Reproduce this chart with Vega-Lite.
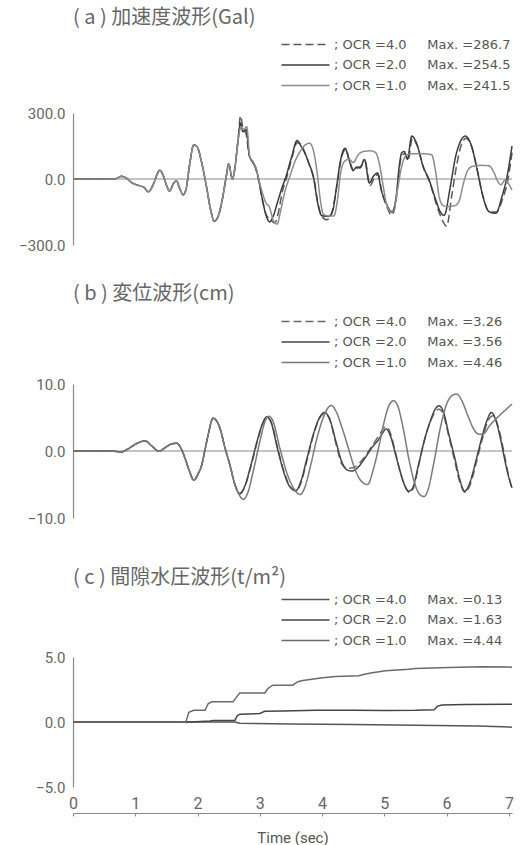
{
"$schema": "https://vega.github.io/schema/vega-lite/v6.json",
"background": "white",
"padding": {"left": 18, "top": 8, "right": 4, "bottom": 0},
"config": {
  "view": {"stroke": null},
  "font": "Roboto",
  "title": {"font": "Noto Sans CJK JP", "fontSize": 20, "fontWeight": "normal", "color": "#666", "anchor": "start", "frame": "group"},
  "axis": {"labelFont": "Roboto", "labelColor": "#666", "labelFontSize": 15, "domainColor": "#8a8a8a", "domainWidth": 1.2, "grid": false, "ticks": false, "labelPadding": 8},
  "legend": {"orient": "none", "symbolType": "M-4.8,0H4.8", "symbolSize": 100, "symbolStrokeWidth": 1.5, "labelFont": "DejaVu Sans", "labelFontSize": 13, "labelColor": "#555", "rowPadding": 6.5, "labelOffset": 22, "labelLimit": 400, "padding": 0}
},
"datasets": {
"a": [
{"s":"a4","t":0,"v":0},{"s":"a4","t":0.66,"v":0},{"s":"a4","t":0.71,"v":4},{"s":"a4","t":0.78,"v":12},{"s":"a4","t":0.85,"v":5},{"s":"a4","t":0.95,"v":-18},{"s":"a4","t":1.06,"v":-30},{"s":"a4","t":1.14,"v":-38},{"s":"a4","t":1.21,"v":-58},{"s":"a4","t":1.28,"v":-30},{"s":"a4","t":1.35,"v":20},{"s":"a4","t":1.39,"v":40},{"s":"a4","t":1.45,"v":15},{"s":"a4","t":1.51,"v":-35},{"s":"a4","t":1.55,"v":-55},{"s":"a4","t":1.61,"v":-22},{"s":"a4","t":1.66,"v":-8},{"s":"a4","t":1.71,"v":-40},{"s":"a4","t":1.77,"v":-72},{"s":"a4","t":1.82,"v":-40},{"s":"a4","t":1.87,"v":60},{"s":"a4","t":1.94,"v":155},{"s":"a4","t":1.99,"v":148},{"s":"a4","t":2.07,"v":70},{"s":"a4","t":2.15,"v":-45},{"s":"a4","t":2.21,"v":-140},{"s":"a4","t":2.27,"v":-192},{"s":"a4","t":2.33,"v":-170},{"s":"a4","t":2.40,"v":-90},{"s":"a4","t":2.46,"v":10},{"s":"a4","t":2.50,"v":68},{"s":"a4","t":2.56,"v":0},{"s":"a4","t":2.60,"v":50},{"s":"a4","t":2.65,"v":175},
{"s":"a4","t":2.69,"v":287},{"s":"a4","t":2.73,"v":230},{"s":"a4","t":2.78,"v":205},{"s":"a4","t":2.83,"v":105},{"s":"a4","t":2.88,"v":80},{"s":"a4","t":2.93,"v":50},{"s":"a4","t":2.98,"v":-5},{"s":"a4","t":3.04,"v":-95},{"s":"a4","t":3.10,"v":-160},{"s":"a4","t":3.17,"v":-185},{"s":"a4","t":3.24,"v":-200},{"s":"a4","t":3.30,"v":-150},{"s":"a4","t":3.36,"v":-60},{"s":"a4","t":3.44,"v":15},{"s":"a4","t":3.52,"v":100},{"s":"a4","t":3.60,"v":165},{"s":"a4","t":3.67,"v":155},{"s":"a4","t":3.73,"v":115},{"s":"a4","t":3.80,"v":60},{"s":"a4","t":3.87,"v":0},{"s":"a4","t":3.94,"v":-120},{"s":"a4","t":4.00,"v":-170},{"s":"a4","t":4.07,"v":-185},{"s":"a4","t":4.13,"v":-175},{"s":"a4","t":4.19,"v":-110},{"s":"a4","t":4.25,"v":-10},{"s":"a4","t":4.31,"v":95},{"s":"a4","t":4.38,"v":135},{"s":"a4","t":4.44,"v":85},{"s":"a4","t":4.51,"v":35},{"s":"a4","t":4.57,"v":50},{"s":"a4","t":4.63,"v":60},{"s":"a4","t":4.69,"v":80},{"s":"a4","t":4.77,"v":-30},{"s":"a4","t":4.84,"v":5},{"s":"a4","t":4.90,"v":20},{"s":"a4","t":4.96,"v":-60},{"s":"a4","t":5.04,"v":-125},{"s":"a4","t":5.12,"v":-165},{"s":"a4","t":5.20,"v":-70},{"s":"a4","t":5.25,"v":70},{"s":"a4","t":5.29,"v":110},{"s":"a4","t":5.33,"v":115},{"s":"a4","t":5.38,"v":85},{"s":"a4","t":5.45,"v":185},{"s":"a4","t":5.53,"v":150},{"s":"a4","t":5.63,"v":50},{"s":"a4","t":5.73,"v":-15},{"s":"a4","t":5.83,"v":-110},{"s":"a4","t":5.92,"v":-180},{"s":"a4","t":6.00,"v":-215},{"s":"a4","t":6.08,"v":-80},{"s":"a4","t":6.16,"v":60},{"s":"a4","t":6.23,"v":150},{"s":"a4","t":6.31,"v":185},{"s":"a4","t":6.41,"v":140},{"s":"a4","t":6.50,"v":30},{"s":"a4","t":6.58,"v":-75},{"s":"a4","t":6.69,"v":-150},{"s":"a4","t":6.80,"v":-150},{"s":"a4","t":6.90,"v":-90},{"s":"a4","t":6.98,"v":-10},{"s":"a4","t":7.05,"v":120},
{"s":"a2","t":0,"v":0},{"s":"a2","t":0.66,"v":0},{"s":"a2","t":0.71,"v":4},{"s":"a2","t":0.78,"v":12},{"s":"a2","t":0.85,"v":5},{"s":"a2","t":0.95,"v":-18},{"s":"a2","t":1.06,"v":-30},{"s":"a2","t":1.14,"v":-38},{"s":"a2","t":1.21,"v":-58},{"s":"a2","t":1.28,"v":-30},{"s":"a2","t":1.35,"v":20},{"s":"a2","t":1.39,"v":40},{"s":"a2","t":1.45,"v":15},{"s":"a2","t":1.51,"v":-35},{"s":"a2","t":1.55,"v":-55},{"s":"a2","t":1.61,"v":-22},{"s":"a2","t":1.66,"v":-8},{"s":"a2","t":1.71,"v":-40},{"s":"a2","t":1.77,"v":-72},{"s":"a2","t":1.82,"v":-40},{"s":"a2","t":1.87,"v":60},{"s":"a2","t":1.94,"v":155},{"s":"a2","t":1.99,"v":148},{"s":"a2","t":2.07,"v":70},{"s":"a2","t":2.15,"v":-45},{"s":"a2","t":2.21,"v":-140},{"s":"a2","t":2.27,"v":-192},{"s":"a2","t":2.33,"v":-170},{"s":"a2","t":2.40,"v":-90},{"s":"a2","t":2.46,"v":10},{"s":"a2","t":2.50,"v":68},{"s":"a2","t":2.56,"v":0},{"s":"a2","t":2.60,"v":50},{"s":"a2","t":2.65,"v":175},
{"s":"a2","t":2.69,"v":254},{"s":"a2","t":2.73,"v":215},{"s":"a2","t":2.78,"v":225},{"s":"a2","t":2.83,"v":110},{"s":"a2","t":2.88,"v":78},{"s":"a2","t":2.93,"v":55},{"s":"a2","t":2.98,"v":0},{"s":"a2","t":3.04,"v":-90},{"s":"a2","t":3.10,"v":-165},{"s":"a2","t":3.16,"v":-195},{"s":"a2","t":3.22,"v":-165},{"s":"a2","t":3.28,"v":-110},{"s":"a2","t":3.35,"v":-45},{"s":"a2","t":3.43,"v":20},{"s":"a2","t":3.51,"v":100},{"s":"a2","t":3.60,"v":175},{"s":"a2","t":3.66,"v":150},{"s":"a2","t":3.72,"v":120},{"s":"a2","t":3.79,"v":70},{"s":"a2","t":3.86,"v":10},{"s":"a2","t":3.93,"v":-110},{"s":"a2","t":3.99,"v":-165},{"s":"a2","t":4.10,"v":-170},{"s":"a2","t":4.17,"v":-145},{"s":"a2","t":4.23,"v":-40},{"s":"a2","t":4.30,"v":90},{"s":"a2","t":4.37,"v":140},{"s":"a2","t":4.43,"v":90},{"s":"a2","t":4.50,"v":40},{"s":"a2","t":4.56,"v":55},{"s":"a2","t":4.61,"v":50},{"s":"a2","t":4.68,"v":89},{"s":"a2","t":4.76,"v":-18},{"s":"a2","t":4.83,"v":15},{"s":"a2","t":4.89,"v":27},{"s":"a2","t":4.95,"v":-49},{"s":"a2","t":5.03,"v":-110},{"s":"a2","t":5.12,"v":-150},{"s":"a2","t":5.19,"v":-81},{"s":"a2","t":5.24,"v":60},{"s":"a2","t":5.28,"v":120},{"s":"a2","t":5.32,"v":125},{"s":"a2","t":5.37,"v":90},{"s":"a2","t":5.44,"v":195},{"s":"a2","t":5.52,"v":160},{"s":"a2","t":5.62,"v":60},{"s":"a2","t":5.72,"v":-5},{"s":"a2","t":5.82,"v":-90},{"s":"a2","t":5.90,"v":-150},{"s":"a2","t":5.96,"v":-165},{"s":"a2","t":6.06,"v":-34},{"s":"a2","t":6.14,"v":96},{"s":"a2","t":6.22,"v":170},{"s":"a2","t":6.30,"v":195},{"s":"a2","t":6.40,"v":150},{"s":"a2","t":6.49,"v":43},{"s":"a2","t":6.57,"v":-64},{"s":"a2","t":6.68,"v":-148},{"s":"a2","t":6.79,"v":-156},{"s":"a2","t":6.89,"v":-79},{"s":"a2","t":6.97,"v":10},{"s":"a2","t":7.05,"v":150},
{"s":"a1","t":0,"v":0},{"s":"a1","t":0.66,"v":0},{"s":"a1","t":0.71,"v":4},{"s":"a1","t":0.78,"v":12},{"s":"a1","t":0.85,"v":5},{"s":"a1","t":0.95,"v":-18},{"s":"a1","t":1.06,"v":-30},{"s":"a1","t":1.14,"v":-38},{"s":"a1","t":1.21,"v":-58},{"s":"a1","t":1.28,"v":-30},{"s":"a1","t":1.35,"v":20},{"s":"a1","t":1.39,"v":40},{"s":"a1","t":1.45,"v":15},{"s":"a1","t":1.51,"v":-35},{"s":"a1","t":1.55,"v":-55},{"s":"a1","t":1.61,"v":-22},{"s":"a1","t":1.66,"v":-8},{"s":"a1","t":1.71,"v":-40},{"s":"a1","t":1.77,"v":-72},{"s":"a1","t":1.82,"v":-40},{"s":"a1","t":1.87,"v":60},{"s":"a1","t":1.94,"v":155},{"s":"a1","t":1.99,"v":148},{"s":"a1","t":2.07,"v":70},{"s":"a1","t":2.15,"v":-45},{"s":"a1","t":2.21,"v":-140},{"s":"a1","t":2.27,"v":-192},{"s":"a1","t":2.33,"v":-170},{"s":"a1","t":2.40,"v":-90},{"s":"a1","t":2.46,"v":10},{"s":"a1","t":2.50,"v":68},{"s":"a1","t":2.56,"v":0},{"s":"a1","t":2.60,"v":50},{"s":"a1","t":2.65,"v":175},
{"s":"a1","t":2.70,"v":238},{"s":"a1","t":2.74,"v":225},{"s":"a1","t":2.79,"v":238},{"s":"a1","t":2.84,"v":100},{"s":"a1","t":2.89,"v":80},{"s":"a1","t":2.95,"v":40},{"s":"a1","t":3.00,"v":-20},{"s":"a1","t":3.05,"v":-70},{"s":"a1","t":3.10,"v":-110},{"s":"a1","t":3.15,"v":-125},{"s":"a1","t":3.22,"v":-190},{"s":"a1","t":3.28,"v":-205},{"s":"a1","t":3.33,"v":-150},{"s":"a1","t":3.40,"v":-60},{"s":"a1","t":3.48,"v":10},{"s":"a1","t":3.58,"v":90},{"s":"a1","t":3.66,"v":130},{"s":"a1","t":3.73,"v":155},{"s":"a1","t":3.80,"v":163},{"s":"a1","t":3.86,"v":130},{"s":"a1","t":3.92,"v":30},{"s":"a1","t":3.97,"v":-90},{"s":"a1","t":4.02,"v":-160},{"s":"a1","t":4.10,"v":-168},{"s":"a1","t":4.19,"v":-168},{"s":"a1","t":4.24,"v":-110},{"s":"a1","t":4.30,"v":30},{"s":"a1","t":4.36,"v":80},{"s":"a1","t":4.43,"v":90},{"s":"a1","t":4.50,"v":75},{"s":"a1","t":4.58,"v":110},{"s":"a1","t":4.66,"v":125},{"s":"a1","t":4.78,"v":128},{"s":"a1","t":4.86,"v":120},{"s":"a1","t":4.92,"v":70},{"s":"a1","t":4.98,"v":-30},{"s":"a1","t":5.04,"v":-120},{"s":"a1","t":5.10,"v":-145},{"s":"a1","t":5.15,"v":-145},{"s":"a1","t":5.21,"v":-50},{"s":"a1","t":5.28,"v":60},{"s":"a1","t":5.36,"v":110},{"s":"a1","t":5.48,"v":115},{"s":"a1","t":5.62,"v":115},{"s":"a1","t":5.76,"v":110},{"s":"a1","t":5.82,"v":40},{"s":"a1","t":5.88,"v":-80},{"s":"a1","t":5.94,"v":-120},{"s":"a1","t":6.00,"v":-125},{"s":"a1","t":6.14,"v":-120},{"s":"a1","t":6.20,"v":-100},{"s":"a1","t":6.27,"v":-20},{"s":"a1","t":6.34,"v":40},{"s":"a1","t":6.42,"v":58},{"s":"a1","t":6.55,"v":62},{"s":"a1","t":6.68,"v":60},{"s":"a1","t":6.76,"v":30},{"s":"a1","t":6.82,"v":-10},{"s":"a1","t":6.87,"v":-26},{"s":"a1","t":6.94,"v":-5},{"s":"a1","t":6.99,"v":-20},{"s":"a1","t":7.05,"v":-50}
],
"b": [
{"s":"b4","t":0,"v":0},{"s":"b4","t":0.62,"v":0},{"s":"b4","t":0.77,"v":-0.15},{"s":"b4","t":0.90,"v":0.4},{"s":"b4","t":1.00,"v":1.0},{"s":"b4","t":1.16,"v":1.5},{"s":"b4","t":1.27,"v":0.7},{"s":"b4","t":1.38,"v":-0.05},{"s":"b4","t":1.48,"v":0.5},{"s":"b4","t":1.58,"v":1.05},{"s":"b4","t":1.67,"v":1.15},{"s":"b4","t":1.74,"v":0.3},{"s":"b4","t":1.80,"v":-1.1},{"s":"b4","t":1.87,"v":-3.0},{"s":"b4","t":1.94,"v":-4.35},{"s":"b4","t":2.01,"v":-3.4},{"s":"b4","t":2.07,"v":-2.0},{"s":"b4","t":2.12,"v":0.2},{"s":"b4","t":2.17,"v":2.4},{"s":"b4","t":2.25,"v":4.9},{"s":"b4","t":2.36,"v":3.4},{"s":"b4","t":2.44,"v":0.5},{"s":"b4","t":2.52,"v":-2.1},{"s":"b4","t":2.60,"v":-5.0},
{"s":"b4","t":2.68,"v":-6.3},{"s":"b4","t":2.76,"v":-5.3},{"s":"b4","t":2.86,"v":-2.2},{"s":"b4","t":2.96,"v":1.4},{"s":"b4","t":3.04,"v":3.9},{"s":"b4","t":3.11,"v":5.0},{"s":"b4","t":3.18,"v":4.4},{"s":"b4","t":3.28,"v":0.7},{"s":"b4","t":3.38,"v":-2.8},{"s":"b4","t":3.48,"v":-5.2},{"s":"b4","t":3.58,"v":-6.0},{"s":"b4","t":3.66,"v":-4.8},{"s":"b4","t":3.76,"v":-1.3},{"s":"b4","t":3.86,"v":2.3},{"s":"b4","t":3.96,"v":4.9},{"s":"b4","t":4.04,"v":5.6},{"s":"b4","t":4.12,"v":4.8},{"s":"b4","t":4.22,"v":1.2},{"s":"b4","t":4.32,"v":-2.0},{"s":"b4","t":4.40,"v":-2.6},{"s":"b4","t":4.50,"v":-2.5},{"s":"b4","t":4.60,"v":-1.8},{"s":"b4","t":4.72,"v":-0.4},{"s":"b4","t":4.82,"v":1.0},{"s":"b4","t":4.92,"v":2.4},{"s":"b4","t":4.99,"v":3.4},{"s":"b4","t":5.04,"v":3.6},{"s":"b4","t":5.10,"v":2.6},{"s":"b4","t":5.18,"v":-0.3},{"s":"b4","t":5.26,"v":-3.3},{"s":"b4","t":5.34,"v":-5.4},{"s":"b4","t":5.40,"v":-6.2},{"s":"b4","t":5.46,"v":-5.7},{"s":"b4","t":5.55,"v":-2.2},{"s":"b4","t":5.64,"v":1.5},{"s":"b4","t":5.74,"v":4.4},{"s":"b4","t":5.82,"v":5.9},{"s":"b4","t":5.88,"v":6.25},{"s":"b4","t":5.95,"v":5.4},{"s":"b4","t":6.03,"v":2.4},{"s":"b4","t":6.13,"v":-1.5},{"s":"b4","t":6.21,"v":-4.6},{"s":"b4","t":6.30,"v":-6.2},{"s":"b4","t":6.38,"v":-5.0},{"s":"b4","t":6.48,"v":-1.6},{"s":"b4","t":6.58,"v":2.0},{"s":"b4","t":6.67,"v":4.6},{"s":"b4","t":6.75,"v":5.25},{"s":"b4","t":6.83,"v":3.6},{"s":"b4","t":6.91,"v":0.3},{"s":"b4","t":6.98,"v":-3.0},{"s":"b4","t":7.05,"v":-5.8},
{"s":"b2","t":0,"v":0},{"s":"b2","t":0.62,"v":0},{"s":"b2","t":0.77,"v":-0.15},{"s":"b2","t":0.90,"v":0.4},{"s":"b2","t":1.00,"v":1.0},{"s":"b2","t":1.16,"v":1.5},{"s":"b2","t":1.27,"v":0.7},{"s":"b2","t":1.38,"v":-0.05},{"s":"b2","t":1.48,"v":0.5},{"s":"b2","t":1.58,"v":1.05},{"s":"b2","t":1.67,"v":1.15},{"s":"b2","t":1.74,"v":0.3},{"s":"b2","t":1.80,"v":-1.1},{"s":"b2","t":1.87,"v":-3.0},{"s":"b2","t":1.94,"v":-4.35},{"s":"b2","t":2.01,"v":-3.4},{"s":"b2","t":2.07,"v":-2.0},{"s":"b2","t":2.12,"v":0.2},{"s":"b2","t":2.17,"v":2.4},{"s":"b2","t":2.25,"v":4.9},{"s":"b2","t":2.36,"v":3.4},{"s":"b2","t":2.44,"v":0.5},{"s":"b2","t":2.52,"v":-2.1},{"s":"b2","t":2.60,"v":-5.0},
{"s":"b2","t":2.68,"v":-6.4},{"s":"b2","t":2.76,"v":-5.2},{"s":"b2","t":2.86,"v":-2},{"s":"b2","t":2.96,"v":1.6},{"s":"b2","t":3.04,"v":4.0},{"s":"b2","t":3.11,"v":5.1},{"s":"b2","t":3.18,"v":4.3},{"s":"b2","t":3.28,"v":0.5},{"s":"b2","t":3.38,"v":-3.0},{"s":"b2","t":3.48,"v":-5.3},{"s":"b2","t":3.58,"v":-5.9},{"s":"b2","t":3.66,"v":-4.5},{"s":"b2","t":3.76,"v":-1},{"s":"b2","t":3.86,"v":2.5},{"s":"b2","t":3.96,"v":5.0},{"s":"b2","t":4.04,"v":5.75},{"s":"b2","t":4.12,"v":4.8},{"s":"b2","t":4.22,"v":1.5},{"s":"b2","t":4.32,"v":-1.7},{"s":"b2","t":4.40,"v":-2.8},{"s":"b2","t":4.48,"v":-3.0},{"s":"b2","t":4.58,"v":-2.4},{"s":"b2","t":4.70,"v":-0.9},{"s":"b2","t":4.80,"v":0.5},{"s":"b2","t":4.91,"v":1.75},{"s":"b2","t":4.98,"v":2.8},{"s":"b2","t":5.03,"v":3.3},{"s":"b2","t":5.10,"v":2.2},{"s":"b2","t":5.18,"v":-0.5},{"s":"b2","t":5.26,"v":-3.25},{"s":"b2","t":5.33,"v":-5.2},{"s":"b2","t":5.39,"v":-6.0},{"s":"b2","t":5.45,"v":-5.6},{"s":"b2","t":5.55,"v":-2},{"s":"b2","t":5.64,"v":1.5},{"s":"b2","t":5.74,"v":4.5},{"s":"b2","t":5.82,"v":6.3},{"s":"b2","t":5.88,"v":6.75},{"s":"b2","t":5.95,"v":5.8},{"s":"b2","t":6.03,"v":2.7},{"s":"b2","t":6.13,"v":-1},{"s":"b2","t":6.21,"v":-4.2},{"s":"b2","t":6.29,"v":-6.0},{"s":"b2","t":6.37,"v":-4.8},{"s":"b2","t":6.47,"v":-1.5},{"s":"b2","t":6.56,"v":1.8},{"s":"b2","t":6.65,"v":4.6},{"s":"b2","t":6.72,"v":5.75},{"s":"b2","t":6.80,"v":4.3},{"s":"b2","t":6.88,"v":1.2},{"s":"b2","t":6.96,"v":-2.5},{"s":"b2","t":7.05,"v":-5.5},
{"s":"b1","t":0,"v":0},{"s":"b1","t":0.62,"v":0},{"s":"b1","t":0.77,"v":-0.15},{"s":"b1","t":0.90,"v":0.4},{"s":"b1","t":1.00,"v":1.0},{"s":"b1","t":1.16,"v":1.5},{"s":"b1","t":1.27,"v":0.7},{"s":"b1","t":1.38,"v":-0.05},{"s":"b1","t":1.48,"v":0.5},{"s":"b1","t":1.58,"v":1.05},{"s":"b1","t":1.67,"v":1.15},{"s":"b1","t":1.74,"v":0.3},{"s":"b1","t":1.80,"v":-1.1},{"s":"b1","t":1.87,"v":-3.0},{"s":"b1","t":1.94,"v":-4.35},{"s":"b1","t":2.01,"v":-3.4},{"s":"b1","t":2.07,"v":-2.0},{"s":"b1","t":2.12,"v":0.2},{"s":"b1","t":2.17,"v":2.4},{"s":"b1","t":2.25,"v":4.9},{"s":"b1","t":2.36,"v":3.4},{"s":"b1","t":2.44,"v":0.5},{"s":"b1","t":2.52,"v":-2.1},{"s":"b1","t":2.60,"v":-5.0},
{"s":"b1","t":2.66,"v":-6.4},{"s":"b1","t":2.74,"v":-7.2},{"s":"b1","t":2.80,"v":-6.4},{"s":"b1","t":2.90,"v":-2.8},{"s":"b1","t":3.00,"v":1.4},{"s":"b1","t":3.08,"v":4.3},{"s":"b1","t":3.14,"v":5.2},{"s":"b1","t":3.21,"v":4.5},{"s":"b1","t":3.32,"v":0.5},{"s":"b1","t":3.44,"v":-3.4},{"s":"b1","t":3.56,"v":-5.8},{"s":"b1","t":3.65,"v":-6.5},{"s":"b1","t":3.72,"v":-5.5},{"s":"b1","t":3.82,"v":-2.0},{"s":"b1","t":3.92,"v":2.0},{"s":"b1","t":4.02,"v":5.0},{"s":"b1","t":4.10,"v":6.5},{"s":"b1","t":4.15,"v":6.8},{"s":"b1","t":4.22,"v":6.0},{"s":"b1","t":4.32,"v":3.5},{"s":"b1","t":4.42,"v":0.5},{"s":"b1","t":4.52,"v":-2.5},{"s":"b1","t":4.62,"v":-4.4},{"s":"b1","t":4.73,"v":-5.0},{"s":"b1","t":4.83,"v":-2.5},{"s":"b1","t":4.92,"v":1.0},{"s":"b1","t":5.00,"v":4.5},{"s":"b1","t":5.08,"v":6.9},{"s":"b1","t":5.15,"v":7.5},{"s":"b1","t":5.22,"v":6.6},{"s":"b1","t":5.30,"v":3.5},{"s":"b1","t":5.40,"v":-1.5},{"s":"b1","t":5.50,"v":-5.2},{"s":"b1","t":5.58,"v":-6.6},{"s":"b1","t":5.64,"v":-6.8},{"s":"b1","t":5.70,"v":-5.8},{"s":"b1","t":5.80,"v":-1.5},{"s":"b1","t":5.90,"v":3.5},{"s":"b1","t":6.00,"v":7.0},{"s":"b1","t":6.09,"v":8.3},{"s":"b1","t":6.16,"v":8.5},{"s":"b1","t":6.24,"v":7.6},{"s":"b1","t":6.34,"v":5.3},{"s":"b1","t":6.44,"v":3.2},{"s":"b1","t":6.52,"v":2.5},{"s":"b1","t":6.58,"v":2.5},{"s":"b1","t":6.70,"v":3.9},{"s":"b1","t":6.85,"v":5.3},{"s":"b1","t":7.05,"v":7.0}
],
"c": [
{"s":"c4","t":0,"v":0},{"s":"c4","t":2.6,"v":0},{"s":"c4","t":2.68,"v":-0.1},{"s":"c4","t":3.5,"v":-0.15},{"s":"c4","t":4.5,"v":-0.2},{"s":"c4","t":5.5,"v":-0.25},{"s":"c4","t":6.5,"v":-0.3},{"s":"c4","t":7.05,"v":-0.4},
{"s":"c2","t":0,"v":0},{"s":"c2","t":1.90,"v":0},{"s":"c2","t":2.20,"v":0.08},{"s":"c2","t":2.25,"v":0.12},{"s":"c2","t":2.60,"v":0.12},{"s":"c2","t":2.64,"v":0.5},{"s":"c2","t":2.68,"v":0.6},{"s":"c2","t":3.0,"v":0.65},{"s":"c2","t":3.08,"v":0.82},{"s":"c2","t":3.37,"v":0.85},{"s":"c2","t":3.9,"v":0.9},{"s":"c2","t":4.5,"v":0.9},{"s":"c2","t":5.0,"v":0.88},{"s":"c2","t":5.5,"v":0.9},{"s":"c2","t":5.80,"v":0.95},{"s":"c2","t":5.85,"v":1.2},{"s":"c2","t":5.92,"v":1.3},{"s":"c2","t":6.3,"v":1.35},{"s":"c2","t":7.05,"v":1.37},
{"s":"c1","t":0,"v":0},{"s":"c1","t":1.78,"v":0},{"s":"c1","t":1.81,"v":-0.05},{"s":"c1","t":1.86,"v":0.75},{"s":"c1","t":1.94,"v":0.9},{"s":"c1","t":2.12,"v":0.9},{"s":"c1","t":2.17,"v":1.4},{"s":"c1","t":2.23,"v":1.55},{"s":"c1","t":2.57,"v":1.55},{"s":"c1","t":2.63,"v":1.95},{"s":"c1","t":2.68,"v":2.24},{"s":"c1","t":3.08,"v":2.24},{"s":"c1","t":3.13,"v":2.58},{"s":"c1","t":3.21,"v":2.83},{"s":"c1","t":3.53,"v":2.83},{"s":"c1","t":3.61,"v":3.1},{"s":"c1","t":3.69,"v":3.2},{"s":"c1","t":4.01,"v":3.4},{"s":"c1","t":4.22,"v":3.5},{"s":"c1","t":4.59,"v":3.56},{"s":"c1","t":4.70,"v":3.69},{"s":"c1","t":4.81,"v":3.79},{"s":"c1","t":5.02,"v":3.94},{"s":"c1","t":5.39,"v":4.05},{"s":"c1","t":5.50,"v":4.12},{"s":"c1","t":6.03,"v":4.2},{"s":"c1","t":6.56,"v":4.25},{"s":"c1","t":7.05,"v":4.22}
]
},
"spacing": 139,
"bounds": "flush",
"resolve": {"scale": {"x": "independent", "y": "independent", "color": "independent", "strokeDash": "independent"}, "legend": {"color": "independent", "strokeDash": "independent"}},
"vconcat": [
 {
  "width": 439, "height": 132,
  "title": {"text": "(\u00a0a\u00a0)\u00a0加速度波形(Gal)", "offset": 10},
  "layer": [
   {"data": {"values": [{}]}, "mark": {"type": "rule", "color": "#8a8a8a", "strokeWidth": 1},
    "encoding": {"y": {"datum": 0, "type": "quantitative", "scale": {"domain": [-300, 300]}, "axis": {"values": [-300, 0, 300], "format": ".1f", "title": null}}}},
   {"data": {"name": "a"}, "mark": {"type": "line", "interpolate": "monotone", "strokeWidth": 1.5},
    "encoding": {
     "x": {"field": "t", "type": "quantitative", "scale": {"domain": [0, 7.05], "nice": false}, "axis": null},
     "y": {"field": "v", "type": "quantitative", "scale": {"domain": [-300, 300]}, "axis": {"values": [-300, 0, 300], "format": ".1f", "title": null}},
     "color": {"field": "s", "type": "nominal", "scale": {"domain": ["a4", "a2", "a1"], "range": ["#5a5a5a", "#3c3c3c", "#8c8c8c"]},
       "legend": {"title": null, "legendX": 226, "legendY": -75, "labelExpr": "datum.label == 'a4' ? '; OCR =4.0\u00a0\u00a0\u00a0\u00a0\u00a0Max. =286.7' : datum.label == 'a2' ? '; OCR =2.0\u00a0\u00a0\u00a0\u00a0\u00a0Max. =254.5' : '; OCR =1.0\u00a0\u00a0\u00a0\u00a0\u00a0Max. =241.5'"}},
     "strokeDash": {"field": "s", "type": "nominal", "scale": {"domain": ["a4", "a2", "a1"], "range": [[8, 4], [1, 0], [1, 0]]}}
    }}
  ]
 },
 {
  "width": 439, "height": 134,
  "title": {"text": "(\u00a0b\u00a0)\u00a0変位波形(cm)", "offset": 11},
  "layer": [
   {"data": {"values": [{}]}, "mark": {"type": "rule", "color": "#8a8a8a", "strokeWidth": 1},
    "encoding": {"y": {"datum": 0, "type": "quantitative", "scale": {"domain": [-10, 10]}, "axis": {"values": [-10, 0, 10], "format": ".1f", "title": null}}}},
   {"data": {"name": "b"}, "mark": {"type": "line", "interpolate": "monotone", "strokeWidth": 1.5},
    "encoding": {
     "x": {"field": "t", "type": "quantitative", "scale": {"domain": [0, 7.05], "nice": false}, "axis": null},
     "y": {"field": "v", "type": "quantitative", "scale": {"domain": [-10, 10]}, "axis": {"values": [-10, 0, 10], "format": ".1f", "title": null}},
     "color": {"field": "s", "type": "nominal", "scale": {"domain": ["b4", "b2", "b1"], "range": ["#6a6a6a", "#454545", "#7a7a7a"]},
       "legend": {"title": null, "legendX": 226, "legendY": -69, "labelExpr": "datum.label == 'b4' ? '; OCR =4.0\u00a0\u00a0\u00a0\u00a0\u00a0Max. =3.26' : datum.label == 'b2' ? '; OCR =2.0\u00a0\u00a0\u00a0\u00a0\u00a0Max. =3.56' : '; OCR =1.0\u00a0\u00a0\u00a0\u00a0\u00a0Max. =4.46'"}},
     "strokeDash": {"field": "s", "type": "nominal", "scale": {"domain": ["b4", "b2", "b1"], "range": [[8, 4], [1, 0], [1, 0]]}}
    }}
  ]
 },
 {
  "width": 439, "height": 130,
  "title": {"text": "(\u00a0c\u00a0)\u00a0間隙水圧波形(t/m²)", "offset": 5},
  "layer": [
   {"data": {"name": "c"}, "mark": {"type": "line", "interpolate": "linear", "strokeWidth": 1.5},
    "encoding": {
     "x": {"field": "t", "type": "quantitative", "scale": {"domain": [0, 7.05], "nice": false},
       "axis": {"values": [0, 1, 2, 3, 4, 5, 6, 7], "format": "d", "offset": 26, "ticks": true, "tickSize": 3, "tickColor": "#8a8a8a", "labelPadding": -21, "labelFontSize": 16, "labelFlush": false, "title": "Time (sec)", "titleFont": "Roboto", "titleFontSize": 15, "titleFontWeight": "normal", "titleColor": "#555", "titleY": 24, "titleBaseline": "middle"}},
     "y": {"field": "v", "type": "quantitative", "scale": {"domain": [-5, 5]}, "axis": {"values": [-5, 0, 5], "format": ".1f", "title": null}},
     "color": {"field": "s", "type": "nominal", "scale": {"domain": ["c4", "c2", "c1"], "range": ["#555555", "#454545", "#6a6a6a"]},
       "legend": {"title": null, "legendX": 226, "legendY": -64, "labelExpr": "datum.label == 'c4' ? '; OCR =4.0\u00a0\u00a0\u00a0\u00a0\u00a0Max. =0.13' : datum.label == 'c2' ? '; OCR =2.0\u00a0\u00a0\u00a0\u00a0\u00a0Max. =1.63' : '; OCR =1.0\u00a0\u00a0\u00a0\u00a0\u00a0Max. =4.44'"}}
    }}
  ]
 }
]
}
